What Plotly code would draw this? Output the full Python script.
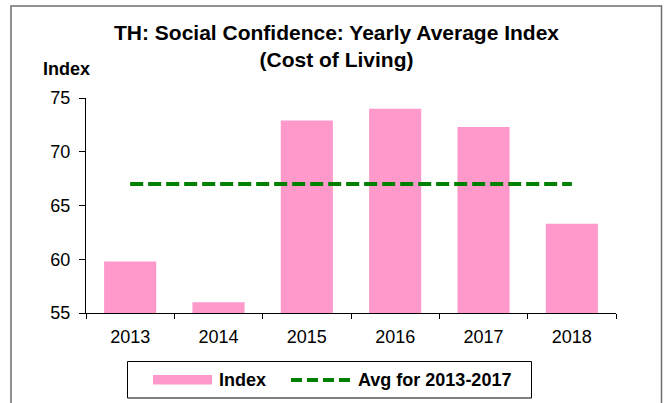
import plotly.graph_objects as go

years = ["2013", "2014", "2015", "2016", "2017", "2018"]
index_values = [59.8, 56.0, 72.9, 74.0, 72.3, 63.3]
avg_values = [67.0, 67.0, 67.0, 67.0, 67.0, 67.0]
y_ticks = [55, 60, 65, 70, 75]
title_lines = ["TH: Social Confidence: Yearly Average Index", "(Cost of Living)"]

BAR_COLOR = "#FF99CC"
LINE_COLOR = "#008000"
FONT = "Liberation Sans, Arial, sans-serif"

W, H = 668, 403
L, R, T, B = 86, 616, 98, 313
pw, ph = R - L, B - T


def px(x):
    return (x - L) / pw


def py(y):
    return (B - y) / ph


fig = go.Figure()
fig.add_trace(go.Bar(x=years, y=index_values, name="Index", width=0.59,
                     marker=dict(color=BAR_COLOR, line=dict(width=0)),
                     showlegend=False))
fig.add_trace(go.Scatter(x=years, y=avg_values, name="Avg for 2013-2017", mode="lines",
                         line=dict(color=LINE_COLOR, width=4, dash="13px,5px"),
                         showlegend=False))

shapes = [
    # outer frame
    dict(type="rect", xref="paper", yref="paper", x0=px(11), x1=px(661.5), y0=py(420), y1=py(6),
         line=dict(color="#6e6e6e", width=1.5), fillcolor="rgba(0,0,0,0)", layer="below"),
    # legend box
    dict(type="rect", xref="paper", yref="paper", x0=px(127.5), x1=px(531.5), y0=py(398), y1=py(361.5),
         line=dict(color="black", width=1), fillcolor="white"),
    # legend swatch for bars
    dict(type="rect", xref="paper", yref="paper", x0=px(153), x1=px(212), y0=py(384.5), y1=py(375),
         line=dict(width=0), fillcolor=BAR_COLOR),
    # legend line for avg
    dict(type="line", xref="paper", yref="paper", x0=px(291), x1=px(353), y0=py(380), y1=py(380),
         line=dict(color=LINE_COLOR, width=4, dash="11px,5px")),
]

annotations = [
    dict(text="<b>" + title_lines[0] + "<br>" + title_lines[1] + "</b>", xref="paper", yref="paper",
         x=px(336), y=py(46), xanchor="center", yanchor="middle", showarrow=False,
         font=dict(size=21, color="black", family=FONT)),
    dict(text="<b>Index</b>", xref="paper", yref="paper", x=px(66), y=py(69),
         xanchor="center", yanchor="middle", showarrow=False,
         font=dict(size=18, color="black", family=FONT)),
    dict(text="<b>Index</b>", xref="paper", yref="paper", x=px(217), y=py(380),
         xanchor="left", yanchor="middle", showarrow=False,
         font=dict(size=18, color="black", family=FONT)),
    dict(text="<b>Avg for 2013-2017</b>", xref="paper", yref="paper", x=px(356), y=py(380),
         xanchor="left", yanchor="middle", showarrow=False,
         font=dict(size=18, color="black", family=FONT)),
]

fig.update_layout(
    width=W, height=H,
    margin=dict(l=L, r=W - R, t=T, b=H - B),
    paper_bgcolor="white", plot_bgcolor="white",
    font=dict(family=FONT, size=18, color="black"),
    showlegend=False,
    shapes=shapes,
    annotations=annotations,
)
fig.update_xaxes(type="category", range=[-0.5, 5.5], showline=True, linecolor="black", linewidth=1,
                 ticks="outside", tickson="boundaries", ticklen=5, tickcolor="black",
                 ticklabelstandoff=7,
                 showgrid=False, zeroline=False, tickfont=dict(size=18, family=FONT))
fig.update_yaxes(range=[55, 75], tickvals=y_ticks, showline=True, linecolor="black", linewidth=1,
                 ticks="outside", ticklen=6, tickcolor="black", showgrid=False, zeroline=False,
                 ticklabelstandoff=5,
                 tickfont=dict(size=18, family=FONT))

fig.write_html("out.html", config={"displayModeBar": False},
               post_script="document.body.style.margin='0px';")
